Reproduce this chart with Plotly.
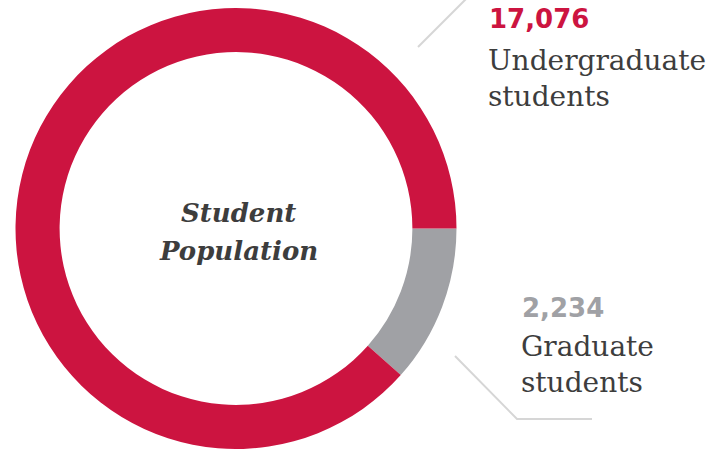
import plotly.graph_objects as go

# Data
categories = ["Graduate students", "Undergraduate students"]
values = [2234, 17076]
value_labels = ["2,234", "17,076"]
colors = ["#A0A1A5", "#CC1440"]

W, H = 720, 449

def px(x):
    return x / W

def py(y):
    return 1 - y / H

fig = go.Figure()
fig.add_trace(go.Pie(
    labels=categories,
    values=values,
    hole=0.80,
    sort=False,
    direction="clockwise",
    rotation=90,
    marker=dict(colors=colors, line=dict(width=0)),
    textinfo="none",
    hoverinfo="label+value",
    showlegend=False,
    domain=dict(x=[px(15.5), px(456.5)], y=[0, py(8)]),
))

TEXT = "#3D3D3D"
BODY = "DejaVu Serif"
NUM = "DejaVu Sans"

ann = []
# Center title (two lines, separate for exact spacing)
for txt, yc in (("Student", 213), ("Population", 251)):
    ann.append(dict(x=px(238), y=py(yc), xref="paper", yref="paper",
                    text="<b><i>" + txt + "</i></b>", showarrow=False,
                    xanchor="center", yanchor="middle", align="center",
                    font=dict(family=BODY, size=26, color=TEXT)))
# Undergraduate
ann.append(dict(x=px(487), y=py(19), xref="paper", yref="paper",
                text="<b>" + value_labels[1] + "</b>", showarrow=False,
                xanchor="left", yanchor="middle", align="left",
                font=dict(family=NUM, size=26, color=colors[1])))
ann.append(dict(x=px(486), y=py(79), xref="paper", yref="paper",
                text="Undergraduate<br>students", showarrow=False,
                xanchor="left", yanchor="middle", align="left",
                font=dict(family=BODY, size=28, color=TEXT)))
# Graduate
ann.append(dict(x=px(520), y=py(308), xref="paper", yref="paper",
                text="<b>" + value_labels[0] + "</b>", showarrow=False,
                xanchor="left", yanchor="middle", align="left",
                font=dict(family=NUM, size=26, color=colors[0])))
ann.append(dict(x=px(519), y=py(364), xref="paper", yref="paper",
                text="Graduate<br>students", showarrow=False,
                xanchor="left", yanchor="middle", align="left",
                font=dict(family=BODY, size=28, color=TEXT)))

LINE = dict(color="#D6D6D6", width=2)
shapes = [
    dict(type="line", xref="paper", yref="paper",
         x0=px(418), y0=py(47), x1=px(468), y1=py(-3), line=LINE),
    dict(type="path", xref="paper", yref="paper",
         path=f"M {px(455)},{py(356)} L {px(517)},{py(419)} L {px(592)},{py(419)}",
         line=LINE),
]

fig.update_layout(
    width=W, height=H,
    margin=dict(l=0, r=0, t=0, b=0),
    paper_bgcolor="white", plot_bgcolor="white",
    annotations=ann, shapes=shapes,
)

fig.write_html("out.html", config={"displayModeBar": False},
               post_script="document.body.style.margin='0px';document.body.style.overflow='hidden';")
